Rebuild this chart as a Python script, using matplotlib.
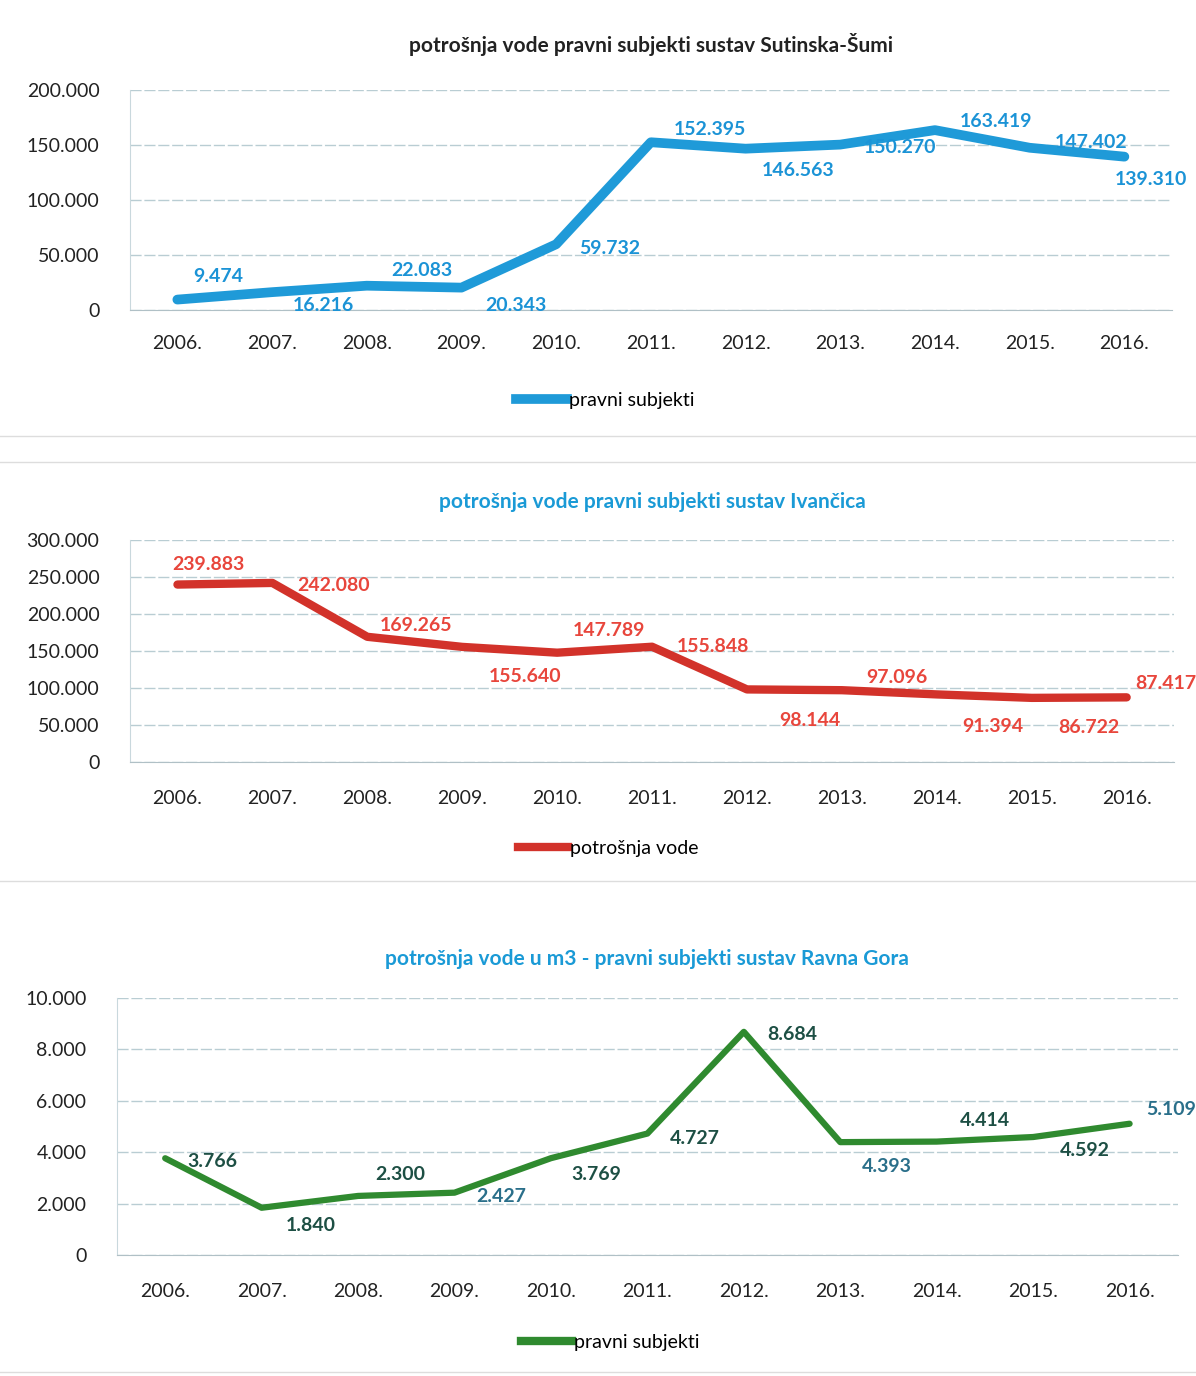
import matplotlib.pyplot as plt
from matplotlib.lines import Line2D
from matplotlib.ticker import FuncFormatter
import numpy as np

plt.rcParams['font.family'] = ['Lato', 'DejaVu Sans']

# data
years = ['2006.', '2007.', '2008.', '2009.', '2010.', '2011.',
         '2012.', '2013.', '2014.', '2015.', '2016.']
sutinska = [9474, 16216, 22083, 20343, 59732, 152395, 146563, 150270, 163419, 147402, 139310]
ivancica = [239883, 242080, 169265, 155640, 147789, 155848, 98144, 97096, 91394, 86722, 87417]
ravna_gora = [3766, 1840, 2300, 2427, 3769, 4727, 8684, 4393, 4414, 4592, 5109]

# label offsets in pixels (dx, dy) for each data label
off_sut = [(41, 23), (51, -13), (55, 15), (54, -18), (54, -4), (59, 13),
           (53, -22), (60, -3), (61, 9), (61, 5), (27, -23)]
off_iva = [(31, 20), (61, -3), (49, 11), (63, -30), (52, 22), (61, 0),
           (63, -31), (55, 13), (56, -32), (57, -30), (39, 14)]
off_rav = [(47, -3), (49, -18), (42, 21), (47, -4), (45, -16), (47, -5),
           (48, -3), (47, -24), (48, 21), (52, -13), (42, 14)]


def thousands(v, pos=None):
    return '{:,.0f}'.format(v).replace(',', '.')


fig = plt.figure(figsize=(11.96, 13.76), dpi=100)


def panel(rect, values, ymax, ystep, color, lw, title, title_color, title_pad,
          label_colors, offsets, legend_label, legend_xy, xpad):
    ax = fig.add_axes(rect)
    x = np.arange(len(values))
    ax.plot(x, values, color=color, lw=lw, solid_capstyle='round',
            solid_joinstyle='round', zorder=3)
    ax.set_xlim(-0.5, len(values) - 0.5)
    ax.set_ylim(0, ymax)
    ax.set_yticks(np.arange(0, ymax + 1, ystep))
    ax.yaxis.set_major_formatter(FuncFormatter(thousands))
    ax.set_xticks(x)
    ax.set_xticklabels(years)
    ax.tick_params(axis='x', length=0, pad=xpad, labelsize=14, colors='#222222')
    ax.tick_params(axis='y', length=0, pad=22, labelsize=14, colors='#222222')
    ax.grid(axis='y', color='#b9cdd3', lw=1.0, ls=(0, (8, 2)))
    ax.set_axisbelow(True)
    for s in ['top', 'right']:
        ax.spines[s].set_visible(False)
    ax.spines['left'].set_color('#c9d8dd')
    ax.spines['bottom'].set_color('#b0c0c6')
    for i, v in enumerate(values):
        ax.annotate(thousands(v), (i, v), xytext=offsets[i],
                    textcoords='offset pixels', ha='center', va='center',
                    fontsize=14, fontweight='bold', color=label_colors[i],
                    zorder=4)
    ax.set_title(title, fontsize=15, fontweight='bold', color=title_color,
                 pad=title_pad)
    h = Line2D([], [], color=color, lw=max(lw, 6))
    ax.legend([h], [legend_label], loc='center',
              bbox_to_anchor=legend_xy, frameon=False, fontsize=14,
              handlelength=2.6, handletextpad=0.1)
    return ax


blue = '#1f9ad8'
panel([0.1087, 0.7747, 0.871, 0.16], sutinska, 200000, 50000, blue, 7,
      'potrošnja vode pravni subjekti sustav Sutinska-Šumi', '#222222', 27,
      ['#1b93d6'] * 11, off_sut, 'pravni subjekti', (0.456, -0.41), 18)

red_lbl = ['#e8463c'] * 11
panel([0.1087, 0.4462, 0.873, 0.1613], ivancica, 300000, 50000, '#d2322a', 6,
      'potrošnja vode pravni subjekti sustav Ivančica', '#1a9ad6', 23,
      red_lbl, off_iva, 'potrošnja vode', (0.458, -0.39), 20)

green_lbl = ['#1d4f44', '#1d4f44', '#1d4f44', '#2a6f8a', '#1d4f44', '#1d4f44',
             '#1d4f44', '#2a6f8a', '#1d4f44', '#1d4f44', '#2a6f8a']
panel([0.0978, 0.0879, 0.887, 0.1868], ravna_gora, 10000, 2000, '#2f8a2f', 4.5,
      'potrošnja vode u m3 - pravni subjekti sustav Ravna Gora', '#1a9ad6', 24,
      green_lbl, off_rav, 'pravni subjekti', (0.465, -0.34), 20)

# faint separators between the pasted charts
for yy in [0.683, 0.664, 0.36, 0.003]:
    fig.add_artist(Line2D([0.0, 1.0], [yy, yy], color='#dddddd', lw=1))

fig.savefig('out.png', dpi=100)
